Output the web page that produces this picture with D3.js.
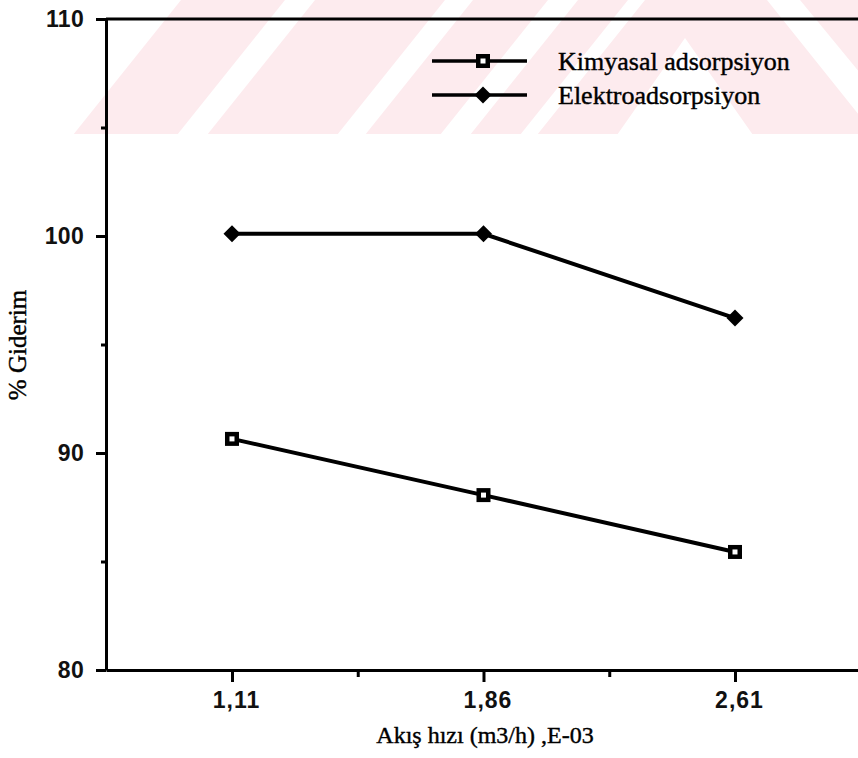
<!DOCTYPE html>
<html>
<head>
<meta charset="utf-8">
<script src="https://cdn.jsdelivr.net/npm/d3@7"></script>
<style>
  html, body { margin: 0; padding: 0; background: #ffffff; }
  svg { display: block; }
</style>
</head>
<body>
<svg id="chart" width="858" height="758"></svg>
<script>
// ---- data ----
const flowRates = [1.11, 1.86, 2.61];              // Akış hızı (m3/h), E-03
const kimyasal = [90.65, 88.06, 85.44];             // Kimyasal adsorpsiyon
const elektro = [100.1, 100.1, 96.22];              // Elektroadsorpsiyon
const seriesNames = ["Kimyasal adsorpsiyon", "Elektroadsorpsiyon"];
const yMajorTicks = [80, 90, 100, 110];
const yMinorTicks = [85, 95, 105];
const xMinorTicks = [1.485, 2.235];
const xTitle = "Akış hızı (m3/h) ,E-03";
const yTitle = "% Giderim";

// ---- layout ----
const W = 858, H = 758;
const mLeft = 106, mRight = 858, mTop = 19, mBottom = 670;
const svg = d3.select("#chart");

// watermark (scan background decoration)
const defs = svg.append("defs");
defs.append("clipPath").attr("id", "wmclip")
  .append("rect").attr("x", 0).attr("y", 0).attr("width", W).attr("height", 134);
const wmG = svg.append("g").attr("clip-path", "url(#wmclip)");
const pink = "#fdebee";
const slope = 0.8, bandH = 135;
const slashBands = [[73, 177], [207, 337], [365, 440], [470, 520]];
const pts = arr => arr.map(p => p.join(",")).join(" ");
slashBands.forEach(([a, b]) => {
  wmG.append("polygon")
    .attr("points", pts([[a, bandH], [b, bandH], [b + bandH * slope, 0], [a + bandH * slope, 0]]))
    .attr("fill", pink);
});
wmG.append("polygon")
  .attr("points", pts([[537, bandH], [617, bandH], [685, 38], [753, bandH], [875, bandH], [767, 0], [645, 0]]))
  .attr("fill", pink);
wmG.append("polygon")
  .attr("points", pts([[800, 0], [870, 0], [870, 85]]))
  .attr("fill", pink);

// ---- scales ----
const x = d3.scaleLinear().domain([0.7343, 2.9768]).range([mLeft, mRight]);
const y = d3.scaleLinear().domain([80, 110]).range([mBottom, mTop]);

const axisStroke = 3;
const sans = "'Liberation Sans', Arial, Helvetica, sans-serif";
const serif = "'Liberation Serif', 'Times New Roman', Times, serif";

// Y axis
const yAxis = svg.append("g").attr("transform", `translate(${mLeft},0)`)
  .call(d3.axisLeft(y).tickValues(yMajorTicks).tickSize(10).tickSizeOuter(0).tickPadding(12));
yAxis.select(".domain").attr("stroke", "#000").attr("stroke-width", axisStroke);
yAxis.selectAll(".tick line").attr("stroke", "#000").attr("stroke-width", axisStroke);
yAxis.selectAll(".tick text").attr("font-family", sans).attr("font-size", 23).attr("font-weight", "bold")
  .attr("fill", "#111").attr("letter-spacing", 0.3);

const yMinor = svg.append("g").attr("transform", `translate(${mLeft},0)`)
  .call(d3.axisLeft(y).tickValues(yMinorTicks).tickSize(5).tickSizeOuter(0).tickFormat(""));
yMinor.select(".domain").remove();
yMinor.selectAll(".tick line").attr("stroke", "#000").attr("stroke-width", axisStroke);

// top frame line
svg.append("line").attr("x1", mLeft).attr("x2", mRight).attr("y1", y(110)).attr("y2", y(110))
  .attr("stroke", "#000").attr("stroke-width", axisStroke);

// X axis
const fmt = d => d.toFixed(2).replace(".", ",");
const xAxis = svg.append("g").attr("transform", `translate(0,${mBottom})`)
  .call(d3.axisBottom(x).tickValues(flowRates).tickSize(12).tickSizeOuter(0).tickPadding(10).tickFormat(fmt));
xAxis.select(".domain").attr("stroke", "#000").attr("stroke-width", axisStroke);
xAxis.selectAll(".tick line").attr("stroke", "#000").attr("stroke-width", axisStroke);
xAxis.selectAll(".tick text").attr("font-family", sans).attr("font-size", 23).attr("font-weight", "bold")
  .attr("fill", "#111").attr("letter-spacing", 1).attr("dx", 4);

const xMinor = svg.append("g").attr("transform", `translate(0,${mBottom})`)
  .call(d3.axisBottom(x).tickValues(xMinorTicks).tickSize(7).tickSizeOuter(0).tickFormat(""));
xMinor.select(".domain").remove();
xMinor.selectAll(".tick line").attr("stroke", "#000").attr("stroke-width", axisStroke);

// titles
svg.append("text").attr("x", 485).attr("y", 743).attr("text-anchor", "middle")
  .attr("font-family", serif).attr("font-size", 24).attr("fill", "#000")
  .attr("stroke", "#000").attr("stroke-width", 0.4).text(xTitle);
svg.append("text").attr("transform", `translate(26,345) rotate(-90)`).attr("text-anchor", "middle")
  .attr("font-family", serif).attr("font-size", 25).attr("fill", "#000")
  .attr("stroke", "#000").attr("stroke-width", 0.4).text(yTitle);

// ---- lines ----
const line = d3.line().x(d => x(d[0])).y(d => y(d[1]));
const kData = flowRates.map((f, i) => [f, kimyasal[i]]);
const eData = flowRates.map((f, i) => [f, elektro[i]]);

svg.append("path").datum(eData).attr("d", line).attr("fill", "none")
  .attr("stroke", "#000").attr("stroke-width", 4);
svg.append("path").datum(kData).attr("d", line).attr("fill", "none")
  .attr("stroke", "#000").attr("stroke-width", 4);

function squareMarker(g, cx, cy) {
  g.append("rect").attr("x", cx - 7).attr("y", cy - 7).attr("width", 14).attr("height", 14).attr("fill", "#000");
  g.append("rect").attr("x", cx - 2.5).attr("y", cy - 2.5).attr("width", 5).attr("height", 5).attr("fill", "#fff");
}
function diamondMarker(g, cx, cy) {
  g.append("path").attr("d", `M${cx},${cy - 8.5} L${cx + 8.5},${cy} L${cx},${cy + 8.5} L${cx - 8.5},${cy} Z`).attr("fill", "#000");
}
const mk = svg.append("g");
kData.forEach(d => squareMarker(mk, x(d[0]), y(d[1])));
eData.forEach(d => diamondMarker(mk, x(d[0]), y(d[1])));

// ---- legend ----
const lg = svg.append("g");
const legendRows = [{ name: seriesNames[0], y: 61, marker: squareMarker }, { name: seriesNames[1], y: 95, marker: diamondMarker }];
legendRows.forEach(r => {
  lg.append("line").attr("x1", 432).attr("x2", 527).attr("y1", r.y).attr("y2", r.y)
    .attr("stroke", "#000").attr("stroke-width", 3.5);
  r.marker(lg, 483, r.y);
  lg.append("text").attr("x", 558).attr("y", r.y + 9).attr("font-family", serif).attr("font-size", 26)
    .attr("fill", "#000").attr("stroke", "#000").attr("stroke-width", 0.4).text(r.name);
});
</script>
</body>
</html>
